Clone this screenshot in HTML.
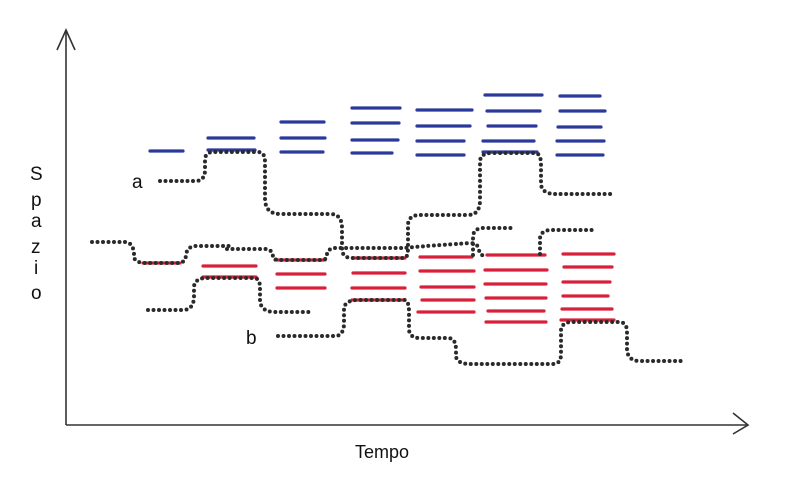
<!DOCTYPE html>
<html><head><style>html,body{margin:0;padding:0;background:#fff}svg{display:block}</style></head>
<body>
<svg width="800" height="494" viewBox="0 0 800 494" xmlns="http://www.w3.org/2000/svg">
<g stroke="#333" stroke-width="1.6" fill="none">
<path d="M66 30 V425"/><path d="M57 50 L66 30 L75 50"/>
<path d="M66 425 H748"/><path d="M733 413 L748 425 L733 434"/>
</g>
<g stroke="#2b3a9a" stroke-width="3.2" stroke-linecap="round">
<path d="M150 151H183"/>
<path d="M208 138H254M208 150H255"/>
<path d="M281 122H324M281 138H325M281 152H323"/>
<path d="M352 108H400M352 123H399M352 140H398M352 153H392"/>
<path d="M417 110H472M417 126H470M417 141H464M417 155H464"/>
<path d="M485 95H542M487 111H540M488 126H536M483 141H534M483 152H537"/>
<path d="M560 96H600M560 111H605M558 127H601M557 141H604M557 155H603"/>
</g>
<g stroke="#d8203a" stroke-width="3.2" stroke-linecap="round">
<path d="M143 263H180"/>
<path d="M203 266H256M203 277H256"/>
<path d="M275 260H325M277 274H325M277 288H325"/>
<path d="M353 258H405M353 273H405M352 288H405M352 300H405"/>
<path d="M420 257H472M420 271H474M421 287H474M422 300H474M418 312H474"/>
<path d="M487 255H545M485 270H547M485 284H546M486 298H546M488 311H544M486 322H546"/>
<path d="M563 254H614M564 267H612M563 282H610M563 296H608M562 309H612M561 320H614"/>
</g>
<g stroke="#2a2a2a" stroke-width="4" stroke-linecap="round" stroke-dasharray="0 5.5" fill="none">
<path d="M160 181H195Q205 181 205 170V160Q205 152 214 152H258Q265 152 265 162V200Q266 214 280 214H330Q342 214 342 228V250Q343 258 352 258H404Q408 258 408 248V224Q409 215 420 215H468Q480 215 480 200V162Q480 153 492 153H535Q541 153 541 165V185Q543 194 555 194H615"/>
<path d="M92 242H125Q132 242 134 252V258Q137 263 145 263H178Q186 263 186 254Q188 246 196 246H230"/>
<path d="M227 249H265Q273 249 273 258Q275 260 280 260H322Q327 260 327 254Q328 248 336 248H405Q410 247 470 243Q478 243 479 250Q480 256 486 256"/>
<path d="M473 255V236Q474 228 484 228H512"/>
<path d="M540 254V238Q541 230 552 230H592"/>
<path d="M148 310H183Q193 310 194 298V286Q196 278 206 278H254Q260 278 260 288V302Q262 312 275 312H310"/>
<path d="M278 336H335Q343 336 344 325V307Q347 300 358 300H404Q409 300 409 312V330Q410 338 420 338H448Q456 338 456 350V357Q458 364 470 364H553Q561 364 561 354V330Q562 322 572 322H619Q627 322 627 332V350Q628 361 640 361H683"/>
</g>
<g font-family="Liberation Sans, sans-serif" fill="#111" font-size="19">
<text x="132" y="188">a</text>
<text x="246" y="344">b</text>
<text x="30" y="180">S</text>
<text x="31" y="206">p</text>
<text x="31" y="227">a</text>
<text x="31" y="253">z</text>
<text x="34" y="274">i</text>
<text x="31" y="299">o</text>
<text x="355" y="458" font-size="18">Tempo</text>
</g>
</svg>
</body></html>
